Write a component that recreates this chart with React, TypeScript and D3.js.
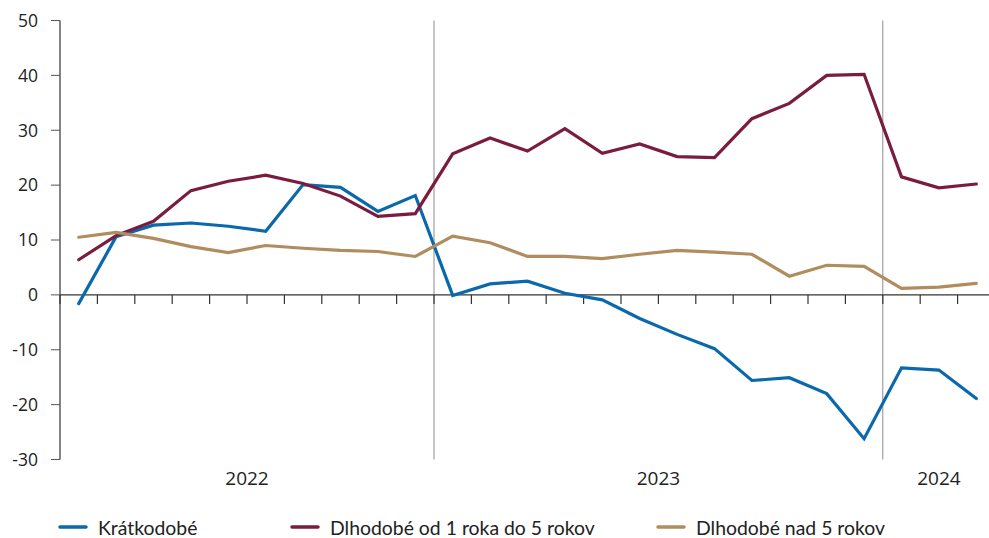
import React from "react";
import * as d3 from "d3";

const months = [
  "2022-03", "2022-04", "2022-05", "2022-06", "2022-07", "2022-08", "2022-09", "2022-10", "2022-11", "2022-12",
  "2023-01", "2023-02", "2023-03", "2023-04", "2023-05", "2023-06", "2023-07", "2023-08", "2023-09", "2023-10", "2023-11", "2023-12",
  "2024-01", "2024-02", "2024-03",
];
const years = ["2022", "2023", "2024"];
const yTicks = [-30, -20, -10, 0, 10, 20, 30, 40, 50];

const kratkodobe = [-1.6, 10.6, 12.7, 13.1, 12.5, 11.6, 20.1, 19.6, 15.2, 18.1, -0.1, 2.0, 2.5, 0.3, -0.9, -4.3, -7.2, -9.8, -15.6, -15.1, -18.0, -26.2, -13.3, -13.7, -18.9];
const dlhodobe1to5 = [6.4, 10.8, 13.4, 19.0, 20.7, 21.8, 20.3, 18.0, 14.3, 14.8, 25.7, 28.6, 26.2, 30.3, 25.8, 27.5, 25.2, 25.0, 32.1, 34.9, 40.0, 40.2, 21.5, 19.5, 20.2];
const dlhodobeNad5 = [10.5, 11.4, 10.3, 8.8, 7.7, 9.0, 8.5, 8.1, 7.9, 7.0, 10.7, 9.5, 7.0, 7.0, 6.6, 7.4, 8.1, 7.8, 7.4, 3.4, 5.4, 5.2, 1.2, 1.4, 2.1];

const seriesNames = ["Krátkodobé", "Dlhodobé od 1 roka do 5 rokov", "Dlhodobé nad 5 rokov"];
const seriesColors = ["#0a69ad", "#7a1c3f", "#b08c5e"];
const seriesData = [kratkodobe, dlhodobe1to5, dlhodobeNad5];

export default function App() {
  const W = 989, H = 538;
  const x0 = 60, x1 = 995, yTop = 20.5, yBot = 459.5;
  const x = d3.scaleBand<string>().domain(months).range([x0, x1]).padding(0);
  const y = d3.scaleLinear().domain([-30, 50]).range([yBot, yTop]);
  const bw = x.bandwidth();
  const line = d3.line<number>()
    .x((_, i) => (x(months[i]) as number) + bw / 2)
    .y((d) => y(d));

  const yearBounds = years.map((yr) => {
    const ms = months.filter((m) => m.startsWith(yr));
    const s = x(ms[0]) as number;
    const e = (x(ms[ms.length - 1]) as number) + bw;
    return { yr, s, e };
  });

  const tickFont = "'Open Sans', 'Noto Sans', sans-serif";
  const legendFont = "Lato, 'Noto Sans', sans-serif";
  const legendX = [60, 292, 658];

  return (
    <svg width={W} height={H} style={{ position: "absolute", left: 0, top: 0 }}>
      <rect width={W} height={H} fill="#fff" />
      {yearBounds.slice(1).map((b) => (
        <line key={b.yr} x1={b.s} x2={b.s} y1={yTop} y2={yBot} stroke="#8c8c8c" strokeWidth={1} />
      ))}
      <line x1={x0} x2={x0} y1={yTop} y2={yBot} stroke="#333" strokeWidth={1.2} />
      {yTicks.map((t) => (
        <g key={t}>
          <line x1={x0 - 9} x2={x0} y1={y(t)} y2={y(t)} stroke="#555" strokeWidth={1} />
          <text x={38} y={y(t)} dy="0.36em" textAnchor="end" fontFamily={tickFont} fontSize={17.5} fill="#222">{t}</text>
        </g>
      ))}
      <line x1={x0} x2={x1} y1={y(0)} y2={y(0)} stroke="#333" strokeWidth={1.2} />
      {months.map((m) => (
        <line key={m} x1={x(m) as number} x2={x(m) as number} y1={y(0)} y2={y(0) + 9} stroke="#333" strokeWidth={1.2} />
      ))}
      {yearBounds.map((b) => (
        <text key={b.yr} x={(b.s + b.e) / 2} y={485} textAnchor="middle" fontFamily={tickFont} fontSize={19} fill="#222">{b.yr}</text>
      ))}
      {seriesData.map((d, i) => (
        <path key={i} d={line(d) || ""} fill="none" stroke={seriesColors[i]} strokeWidth={3.2} strokeLinejoin="miter" strokeLinecap="round" />
      ))}
      {seriesNames.map((n, i) => (
        <g key={n}>
          <line x1={legendX[i]} x2={legendX[i] + 26} y1={527} y2={527} stroke={seriesColors[i]} strokeWidth={3.5} strokeLinecap="round" />
          <text x={legendX[i] + 38} y={534.5} fontFamily={legendFont} fontSize={19.4} fill="#222">{n}</text>
        </g>
      ))}
    </svg>
  );
}
